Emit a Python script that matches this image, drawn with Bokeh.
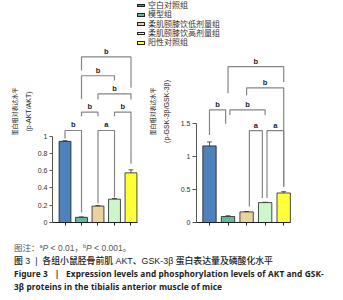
from bokeh.plotting import figure
from bokeh.models import (Range1d, FixedTicker, LinearAxis, ColumnDataSource,
                          Whisker, TeeHead, Div)
from bokeh.layouts import row
from bokeh.embed import file_html
from bokeh.resources import INLINE
from bokeh.core.properties import value

# ---------------- data ----------------
categories = ["空白对照组", "模型组", "柔肌颐膝饮低剂量组", "柔肌颐膝饮高剂量组", "阳性对照组"]
bar_colors = ["#4f81bd", "#62b8a0", "#e8d3a0", "#ccf7cc", "#ffff3a"]

akt_values = [0.94, 0.06, 0.19, 0.27, 0.575]
akt_errors = [0.008, 0.005, 0.006, 0.008, 0.035]
akt_ticks = [0, 0.2, 0.4, 0.6, 0.8, 1.0]

gsk_values = [1.155, 0.09, 0.16, 0.30, 0.445]
gsk_errors = [0.06, 0.012, 0.005, 0.006, 0.02]
gsk_ticks = [0, 0.5, 1.0, 1.5]

# significance brackets: (x_left, x_right, y_bar, y_left_end, y_right_end, label)
akt_brackets = [
    (1, 4, 1.918, 1.76, 1.56, "b"),
    (1, 3, 1.70, 1.43, 1.645, "b"),
    (2, 4, 1.49, 1.425, 1.425, "b"),
    (1, 2, 1.278, 1.23, 1.23, "b"),
    (3, 4, 1.278, 1.23, 0.68, "b"),
    (0, 1, 1.066, 0.973, 0.116, "b"),
    (2, 3, 1.066, 0.22, 0.29, "a"),
]
gsk_brackets = [
    (1, 4, 2.35, 1.95, 2.12, "b"),
    (2, 4, 2.03, 1.92, 0.54, "b"),
    (0, 0.87, 1.70, 1.32, 1.49, "b"),
    (1.1, 3, 1.70, 1.62, 1.62, "b"),
    (2.15, 2.85, 1.385, 0.24, 0.37, "a"),
    (3.1, 4, 1.385, 0.37, 0.54, "a"),
]

akt_label = ["蛋白相对表达水平", "(p-AKT/AKT)"]
gsk_label = ["蛋白相对表达水平", "(p-GSK-3β/GSK-3β)"]

CJK = "Noto Sans CJK SC"
LAT = "Liberation Sans"


def make_chart(values, errors, brackets, ticks, labels, x_start, x_end, y_top,
               width, height, border_left, border_right, label_bounds,
               standoff1, standoff2, tick_out, left_px):
    idx = list(range(len(values)))
    p = figure(x_range=Range1d(x_start, x_end), y_range=Range1d(0, y_top),
               width=width, height=height, title=None,
               min_border_left=border_left, min_border_right=border_right,
               min_border_top=0, min_border_bottom=10,
               output_backend="svg", toolbar_location=None,
               styles={"position": "absolute", "left": f"{left_px}px", "top": "0px"})
    p.outline_line_color = None
    p.grid.visible = False
    p.background_fill_color = None
    p.border_fill_color = None

    src = ColumnDataSource(dict(
        x=idx, top=values, color=bar_colors,
        lower=values, upper=[v + e for v, e in zip(values, errors)]))
    p.vbar(x="x", top="top", width=0.72, fill_color="color",
           line_color="#1f1f1f", line_width=0.8, source=src)
    p.add_layout(Whisker(source=src, base="x", lower="lower", upper="upper",
                         line_color="#333333", line_width=0.8,
                         upper_head=TeeHead(size=5, line_color="#333333", line_width=0.8),
                         lower_head=None))

    xs, ys, mx, my, txt = [], [], [], [], []
    for (x1, x2, yb, y1, y2, lab) in brackets:
        xs.append([x1, x1, x2, x2])
        ys.append([y1, yb, yb, y2])
        mx.append((x1 + x2) / 2)
        my.append(yb)
        txt.append(lab)
    p.multi_line(xs, ys, line_color="#858585", line_width=1.2)
    p.text(x=mx, y=my, text=txt, text_align="center", text_baseline="bottom",
           y_offset=-1, text_font=value(LAT), text_font_size="7.5px",
           text_font_style="bold", text_color="#222222")

    xa = p.xaxis[0]
    xa.ticker = FixedTicker(ticks=idx)
    xa.major_label_overrides = {i: "" for i in idx}
    xa.major_label_text_font_size = "0px"
    xa.major_label_standoff = 0
    xa.major_tick_out = 3
    xa.major_tick_in = 0
    xa.minor_tick_line_color = None
    xa.axis_line_color = "#1f1f1f"
    xa.major_tick_line_color = "#1f1f1f"
    xa.bounds = (x_start, len(values) - 1 + 0.37)

    ya = p.yaxis[0]
    ya.ticker = FixedTicker(ticks=ticks)
    ya.major_label_overrides = {0: "0"}
    ya.bounds = (0, ticks[-1])
    ya.major_tick_out = tick_out
    ya.major_tick_in = 0
    ya.minor_tick_line_color = None
    ya.major_label_standoff = 2
    ya.major_label_text_font = LAT
    ya.major_label_text_font_size = "7px"
    ya.major_label_text_color = "#333333"
    ya.axis_line_color = "#555555"
    ya.major_tick_line_color = "#555555"

    for text, so, font, size in [(labels[1], standoff1, LAT, "7px"),
                                 (labels[0], standoff2, CJK, "6px")]:
        ax = LinearAxis(ticker=FixedTicker(ticks=[]), axis_label=text,
                        axis_line_color=None, major_tick_line_color=None,
                        minor_tick_line_color=None, bounds=label_bounds,
                        major_label_text_font_size="0px",
                        axis_label_standoff=so, axis_label_text_font=font,
                        axis_label_text_font_size=size,
                        axis_label_text_font_style="normal",
                        axis_label_text_color="#222222")
        p.add_layout(ax, "left")
    return p


left = make_chart(akt_values, akt_errors, akt_brackets, akt_ticks, akt_label,
                  x_start=-0.758, x_end=4.455, y_top=2.572,
                  width=138, height=232, border_left=52, border_right=0,
                  label_bounds=(0, 1.37), standoff1=3, standoff2=3, tick_out=3,
                  left_px=0)

right = make_chart(gsk_values, gsk_errors, gsk_brackets, gsk_ticks, gsk_label,
                   x_start=-0.70, x_end=4.906, y_top=3.348,
                   width=197, height=232, border_left=58, border_right=35,
                   label_bounds=(0, 1.81), standoff1=8, standoff2=3, tick_out=4,
                   left_px=138)

rows = "".join(
    f'<div style="height:9.3px;line-height:9.3px;display:flex;align-items:center">'
    f'<span style="display:inline-block;width:8px;height:3.5px;border:1px solid #222;'
    f'background:{c};margin-right:3px"></span>{name}</div>'
    for name, c in zip(categories, bar_colors))
legend_div = Div(text=f'<div style="font-family:\'Liberation Sans\',\'Noto Sans CJK SC\';font-size:8px;color:#333;white-space:nowrap">{rows}</div>',
                 width=100, height=47, margin=(0, 0, 0, 0),
                 styles={"position": "absolute", "left": "137px", "top": "1px"})

caption = """
<div style="font-family:'Liberation Sans','Noto Sans CJK SC',sans-serif;padding-left:14px;white-space:nowrap;">
<div style="height:8px"></div>
<div style="height:13px;line-height:13px;font-size:8.5px;color:#555">图注：<span style="font-size:5.5px;vertical-align:3px">a</span><i>P</i> &lt; 0.01，<span style="font-size:5.5px;vertical-align:3px">b</span><i>P</i> &lt; 0.001。</div>
<div style="height:2px"></div>
<div style="height:13px;line-height:13px;font-size:8.85px;color:#222;font-weight:500">图 3 &nbsp;|&nbsp; 各组小鼠胫骨前肌 AKT、GSK-3β 蛋白表达量及磷酸化水平</div>
<div style="height:11px;line-height:11px;font-size:8.3px;letter-spacing:0.1px;color:#222;font-weight:bold;font-family:'Noto Sans',sans-serif">Figure 3 &nbsp;&nbsp;| &nbsp;&nbsp;Expression levels and phosphorylation levels of AKT and GSK-</div>
<div style="height:2px"></div>
<div style="height:11px;line-height:11px;font-size:8.3px;letter-spacing:0.1px;color:#222;font-weight:bold;font-family:'Noto Sans',sans-serif">3β proteins in the tibialis anterior muscle of mice</div>
</div>
"""
div = Div(text=caption, width=335, height=60, margin=(0, 0, 0, 0),
          styles={"position": "absolute", "left": "0px", "top": "232px"})

layout = row(left, right, legend_div, div, width=335, height=292)

open("out.html", "w").write(file_html(layout, INLINE))
